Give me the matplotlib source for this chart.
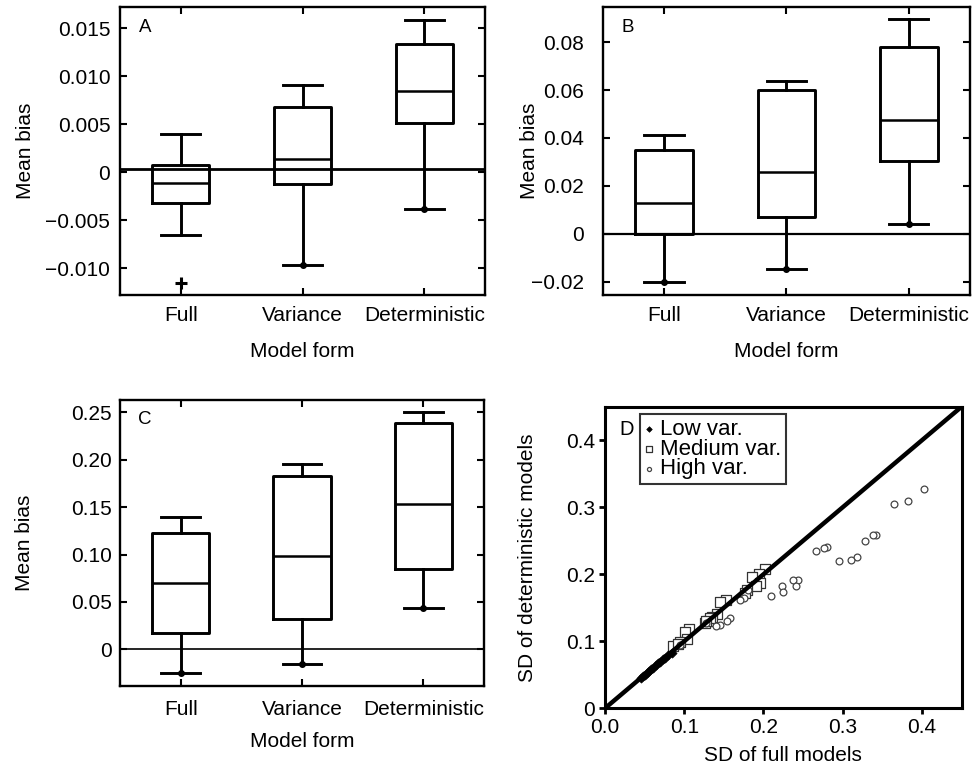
import numpy as np
import matplotlib
matplotlib.use("Agg")
import matplotlib.pyplot as plt

plt.rcParams['font.family'] = ['Liberation Sans', 'DejaVu Sans']

categories = ["Full", "Variance", "Deterministic"]

# Panel A box statistics (whislo, q1, med, q3, whishi)
A_whislo = [-0.0065, -0.0097, -0.0038]
A_q1     = [-0.0032, -0.0012, 0.0051]
A_med    = [-0.0011, 0.0014, 0.0084]
A_q3     = [0.0007, 0.0068, 0.0133]
A_whishi = [0.0040, 0.0091, 0.0158]
A_plus_out = [-0.0115, None, None]
A_dots = [None, -0.0097, -0.0038]
A_ref = 0.0003
A_yticks = [-0.010, -0.005, 0, 0.005, 0.010, 0.015]
A_yticklabels = ["\u22120.010", "\u22120.005", "0", "0.005", "0.010", "0.015"]

# Panel B
B_whislo = [-0.0202, -0.0148, 0.0039]
B_q1     = [-0.0003, 0.0069, 0.0302]
B_med    = [0.0128, 0.0257, 0.0476]
B_q3     = [0.0348, 0.0601, 0.0782]
B_whishi = [0.0413, 0.0639, 0.0895]
B_dots = [-0.0202, -0.0148, 0.0039]
B_ref = -0.0003
B_yticks = [-0.02, 0, 0.02, 0.04, 0.06, 0.08]
B_yticklabels = ["\u22120.02", "0", "0.02", "0.04", "0.06", "0.08"]

# Panel C
C_whislo = [-0.0253, -0.0158, 0.0436]
C_q1     = [0.0176, 0.0320, 0.0844]
C_med    = [0.0703, 0.0985, 0.1530]
C_q3     = [0.1224, 0.1832, 0.2384]
C_whishi = [0.1396, 0.1955, 0.2500]
C_dots = [-0.0253, -0.0158, 0.0436]
C_ref = 0.0
C_yticks = [0, 0.05, 0.10, 0.15, 0.20, 0.25]
C_yticklabels = ["0", "0.05", "0.10", "0.15", "0.20", "0.25"]

# Panel D scatter: SD of full models (x) vs SD of deterministic models (y)
low_x = [0.045, 0.048, 0.050, 0.053, 0.056, 0.058, 0.061, 0.064, 0.067, 0.070, 0.073, 0.076, 0.080, 0.084]
low_y = [0.045, 0.048, 0.050, 0.052, 0.056, 0.058, 0.060, 0.064, 0.067, 0.069, 0.073, 0.075, 0.079, 0.083]

med_x = [0.202, 0.194, 0.186, 0.196, 0.190, 0.179, 0.177, 0.153, 0.145, 0.141, 0.135,
         0.130, 0.126, 0.133, 0.128, 0.106, 0.101, 0.103, 0.095, 0.086, 0.092]
med_y = [0.208, 0.201, 0.196, 0.187, 0.183, 0.176, 0.172, 0.162, 0.159, 0.141, 0.136,
         0.131, 0.128, 0.135, 0.131, 0.119, 0.114, 0.103, 0.099, 0.093, 0.096]

high_x = [0.403, 0.382, 0.365, 0.342, 0.338, 0.328, 0.318, 0.311, 0.295, 0.280, 0.276,
          0.266, 0.244, 0.237, 0.241, 0.224, 0.225, 0.210, 0.175, 0.170, 0.158, 0.154,
          0.145, 0.140, 0.095, 0.128, 0.180]
high_y = [0.327, 0.310, 0.305, 0.259, 0.258, 0.249, 0.226, 0.221, 0.220, 0.240, 0.239,
          0.234, 0.192, 0.191, 0.182, 0.182, 0.174, 0.167, 0.164, 0.162, 0.135, 0.131,
          0.125, 0.123, 0.094, 0.127, 0.176]

D_ticks_x = [0.0, 0.1, 0.2, 0.3, 0.4]
D_ticklabels_x = ["0.0", "0.1", "0.2", "0.3", "0.4"]
D_ticks_y = [0, 0.1, 0.2, 0.3, 0.4]
D_ticklabels_y = ["0", "0.1", "0.2", "0.3", "0.4"]

FS = 15

fig = plt.figure(figsize=(9.74, 7.72), dpi=100)

axA = fig.add_axes([0.1232, 0.6179, 0.3748, 0.3730])
axB = fig.add_axes([0.6188, 0.6179, 0.3771, 0.3730])
axC = fig.add_axes([0.1232, 0.1114, 0.3737, 0.3705])
axD = fig.add_axes([0.6211, 0.0825, 0.3662, 0.3907])


def box_panel(ax, lo, q1, med, q3, hi, ref, ref_lw, yticks, yticklabels, ylim, letter,
              ylab_x, xlab_y, ypad, xpad, dots=None, plus=None):
    ax.axhline(ref, color='black', lw=ref_lw, zorder=1)
    stats = []
    for i in range(3):
        stats.append(dict(whislo=lo[i], q1=q1[i], med=med[i], q3=q3[i], whishi=hi[i],
                          fliers=[], label=categories[i]))
    lp = dict(color='black', lw=2.1)
    ax.bxp(stats, positions=[1, 2, 3], widths=0.47, capwidths=0.32, showfliers=False,
           boxprops=lp, medianprops=dict(color='black', lw=1.8), whiskerprops=lp,
           capprops=lp, manage_ticks=False, zorder=3)
    if dots is not None:
        for i, v in enumerate(dots):
            if v is not None:
                ax.plot(i + 1, v, 'o', color='black', ms=4, zorder=4)
    if plus is not None:
        for i, v in enumerate(plus):
            if v is not None:
                ax.plot(i + 1, v, '+', color='black', ms=9, mew=2.2, zorder=4)
    ax.set_xlim(0.5, 3.5)
    ax.set_ylim(*ylim)
    ax.set_xticks([1, 2, 3])
    ax.set_xticklabels(categories, fontsize=FS)
    ax.set_yticks(yticks)
    ax.set_yticklabels(yticklabels, fontsize=FS)
    ax.tick_params(axis='both', direction='in', top=True, right=True, length=5, width=1.5)
    ax.tick_params(axis='x', pad=xpad)
    ax.tick_params(axis='y', pad=ypad)
    for s in ax.spines.values():
        s.set_linewidth(1.7)
    ax.set_ylabel("Mean bias", fontsize=FS, va='center')
    ax.yaxis.set_label_coords(ylab_x, 0.5)
    ax.set_xlabel("Model form", fontsize=FS, va='center')
    ax.xaxis.set_label_coords(0.5, xlab_y)
    ax.text(0.068, 0.93, letter, transform=ax.transAxes, fontsize=13.5, ha='center', va='center')


box_panel(axA, A_whislo, A_q1, A_med, A_q3, A_whishi, A_ref, 2.0, A_yticks, A_yticklabels,
          (-0.0128, 0.0172), "A", -0.258, -0.198, 7, 8, dots=A_dots, plus=A_plus_out)
box_panel(axB, B_whislo, B_q1, B_med, B_q3, B_whishi, B_ref, 1.6, B_yticks, B_yticklabels,
          (-0.0256, 0.0947), "B", -0.2, -0.198, 13.5, 8, dots=B_dots)
box_panel(axC, C_whislo, C_q1, C_med, C_q3, C_whishi, C_ref, 1.2, C_yticks, C_yticklabels,
          (-0.0387, 0.263), "C", -0.262, -0.195, 6, 10, dots=C_dots)

# Panel D
axD.scatter(med_x, med_y, marker='s', s=52, facecolors='white', edgecolors='#333333',
            linewidths=0.9, zorder=3, label="Medium var.")
axD.scatter(high_x, high_y, marker='o', s=24, facecolors='white', edgecolors='#444444',
            linewidths=0.9, zorder=3, label="High var.")
axD.scatter(low_x, low_y, marker='D', s=22, facecolors='black', edgecolors='black',
            linewidths=0.5, zorder=4, label="Low var.")
axD.plot([0, 0.45], [0, 0.45], color='black', lw=3.2, zorder=3.5)
axD.set_xlim(0, 0.45)
axD.set_ylim(0, 0.45)
axD.set_xticks(D_ticks_x)
axD.set_xticklabels(D_ticklabels_x, fontsize=FS)
axD.set_yticks(D_ticks_y)
axD.set_yticklabels(D_ticklabels_y, fontsize=FS)
axD.tick_params(axis='both', direction='out', length=4, width=2.0)
axD.tick_params(axis='x', pad=3)
axD.tick_params(axis='y', pad=3)
for s in axD.spines.values():
    s.set_linewidth(2.2)
axD.set_xlabel("SD of full models", fontsize=FS, va='center')
axD.xaxis.set_label_coords(0.5, -0.158)
axD.set_ylabel("SD of deterministic models", fontsize=FS, va='center')
axD.yaxis.set_label_coords(-0.216, 0.5)
axD.text(0.06, 0.925, "D", transform=axD.transAxes, fontsize=14.5, ha='center', va='center')

handles, labels = axD.get_legend_handles_labels()
order = [2, 0, 1]
leg = axD.legend([handles[i] for i in order], [labels[i] for i in order],
                 loc='upper left', bbox_to_anchor=(0.098, 0.975), fontsize=16,
                 frameon=True, fancybox=False, handlelength=0.4, handletextpad=0.3,
                 borderpad=0.2, labelspacing=-0.05, borderaxespad=0.0,
                 markerscale=0.6)
leg.get_frame().set_edgecolor('black')
leg.get_frame().set_linewidth(1.5)

fig.savefig("out.png", dpi=100)
